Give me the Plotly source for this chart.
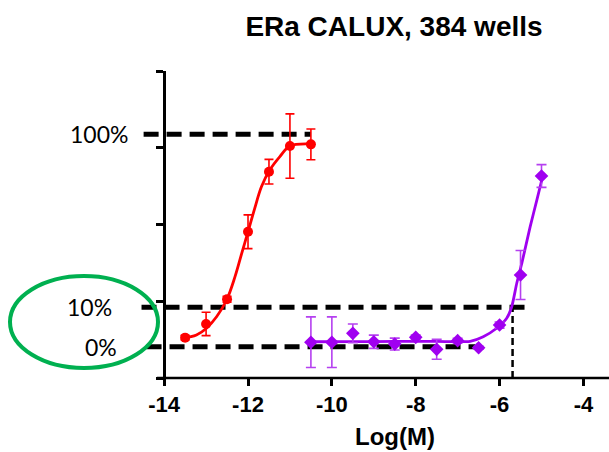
import plotly.graph_objects as go

# ---------------- data ----------------
red_x = [-13.5, -13.0, -12.5, -12.0, -11.5, -11.0, -10.5]
red_y = [26.3, 35.2, 51.3, 95.3, 134.4, 151.1, 152.2]
red_err = [1.5, 7.6, 2.0, 11.0, 8.0, 21.0, 10.0]

red_fit_x = [-13.55, -13.23, -12.99, -12.75, -12.51, -12.31, -12.15, -12.0, -11.84, -11.68, -11.48, -11.24, -11.0, -10.48]
red_fit_y = [25.9, 28.0, 32.4, 39.9, 50.8, 66.0, 81.2, 95.3, 110.5, 124.6, 135.5, 144.2, 151.1, 152.4]

pur_x = [-10.5, -10.0, -9.5, -9.0, -8.5, -8.0, -7.5, -7.0, -6.5, -6.0, -5.5, -5.0]
pur_y = [23.3, 23.3, 29.1, 23.6, 22.1, 26.5, 18.7, 24.3, 19.7, 34.5, 67.1, 131.6]
pur_err = [16.5, 16.5, 6.1, 4.3, 3.9, 1.5, 6.5, 1.5, 1.0, 2.0, 16.0, 7.4]

pur_fit_x = [-10.5, -9.5, -8.5, -7.5, -6.7, -6.39, -6.07, -5.83, -5.71, -5.59, -5.47, -5.27, -5.11, -4.97]
pur_fit_y = [23.6, 23.7, 23.8, 23.8, 23.9, 26.9, 32.4, 38.9, 46.4, 61.7, 74.7, 98.6, 116.0, 131.6]

level_labels = ["100%", "10%", "0%"]
level_y = [158.8, 46.1, 20.4]
level_x_start = [-14.49, -14.54, -14.42]
level_x_end = [-10.5, -5.39, -6.58]
ec10_x = -5.69
axis_x_start = -14.17

x_tick_vals = [-14, -12, -10, -8, -6, -4]
x_tick_text = ["-14", "-12", "-10", "-8", "-6", "-4"]
y_tick_vals = [0, 50, 100, 150, 200]

title_text = "ERa CALUX, 384 wells"
x_title = "Log(M)"

# ---------------- layout geometry ----------------
W, H = 609, 452
ML, MR, MT, MB = 139, 0, 71, 74
x_range = [-14.6, -3.39]
y_range = [0, 200]
PW, PH = W - ML - MR, H - MT - MB


def px_to_paper_x(px):
    return (px - ML) / PW


def py_to_paper_y(py):
    return (H - MB - py) / PH


RED = "#FF0000"
PURPLE = "#A000F0"
PURPLE_ERR = "#B540F0"
GREEN = "#00B050"

fig = go.Figure()

fig.add_trace(go.Scatter(x=red_fit_x, y=red_fit_y, mode="lines",
                         line=dict(color=RED, width=2.8, shape="spline", smoothing=1.0),
                         hoverinfo="skip", showlegend=False))
fig.add_trace(go.Scatter(x=red_x, y=red_y, mode="markers",
                         marker=dict(color=RED, size=10, symbol="circle"),
                         error_y=dict(type="data", array=red_err, color=RED, thickness=1.6, width=4.5),
                         showlegend=False))
fig.add_trace(go.Scatter(x=pur_fit_x, y=pur_fit_y, mode="lines",
                         line=dict(color=PURPLE, width=2.8, shape="spline", smoothing=0.6),
                         hoverinfo="skip", showlegend=False))
fig.add_trace(go.Scatter(x=pur_x, y=pur_y, mode="markers",
                         marker=dict(color=PURPLE, size=10.5, symbol="diamond"),
                         error_y=dict(type="data", array=pur_err, color=PURPLE_ERR, thickness=1.6, width=5),
                         showlegend=False))

shapes = []
for ys, x0, x1 in zip(level_y, level_x_start, level_x_end):
    shapes.append(dict(type="line", xref="x", yref="y", x0=x0, x1=x1, y0=ys, y1=ys,
                       line=dict(color="black", width=5, dash="15px,8px"), layer="below"))
shapes.append(dict(type="line", xref="x", yref="y", x0=ec10_x, x1=ec10_x, y0=0, y1=level_y[1],
                   line=dict(color="black", width=2.5, dash="7px,4px"), layer="below"))
# x axis line
shapes.append(dict(type="line", xref="x", yref="y domain", x0=axis_x_start, x1=x_range[1], y0=0, y1=0,
                   line=dict(color="black", width=2.5), layer="above"))
# green highlight ellipse
shapes.append(dict(type="circle", xref="paper", yref="paper",
                   x0=px_to_paper_x(10), x1=px_to_paper_x(158),
                   y0=py_to_paper_y(368), y1=py_to_paper_y(276),
                   line=dict(color=GREEN, width=4), layer="above"))

annotations = []
label_px = [99, 89, 101]
for lab, ys, lx in zip(level_labels, level_y, label_px):
    annotations.append(dict(text=lab, xref="paper", yref="y", x=px_to_paper_x(lx), y=ys,
                            xanchor="center", yanchor="middle", showarrow=False,
                            font=dict(family="Lato, Carlito, sans-serif", size=23, color="black")))
annotations.append(dict(text=x_title, xref="paper", yref="paper", x=px_to_paper_x(395), y=py_to_paper_y(436),
                        xanchor="center", yanchor="middle", showarrow=False,
                        font=dict(family="Arial, Liberation Sans, sans-serif", size=24, color="black", weight="bold")))

yaxis_pos = (-14 - x_range[0]) / (x_range[1] - x_range[0])

fig.update_layout(
    width=W, height=H,
    margin=dict(l=ML, r=MR, t=MT, b=MB, pad=0),
    paper_bgcolor="white", plot_bgcolor="white",
    title=dict(text=title_text, x=394 / W, y=1 - 26 / H, xref="container", yref="container",
               xanchor="center", yanchor="middle",
               font=dict(family="Arial, Liberation Sans, sans-serif", size=28, color="black", weight="bold")),
    xaxis=dict(range=x_range, showgrid=False, zeroline=False, showline=False,
               tickmode="array", tickvals=x_tick_vals, ticktext=x_tick_text,
               ticks="outside", ticklen=7, tickwidth=2.5, tickcolor="black",
               tickfont=dict(family="Arial, Liberation Sans, sans-serif", size=22, color="black", weight="bold")),
    yaxis=dict(range=y_range, showgrid=False, zeroline=False, showline=True, linewidth=2.5, linecolor="black",
               anchor="free", position=yaxis_pos, side="left",
               tickmode="array", tickvals=y_tick_vals, showticklabels=False,
               ticks="outside", ticklen=7, tickwidth=2.5, tickcolor="black"),
    shapes=shapes,
    annotations=annotations,
    showlegend=False,
)

fig.write_html("out.html")
